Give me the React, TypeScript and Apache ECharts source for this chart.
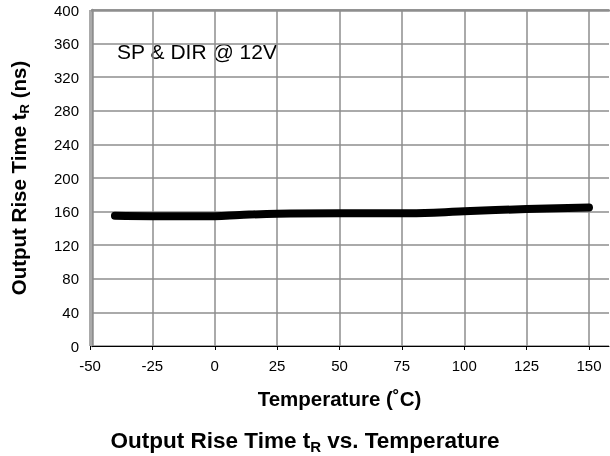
import React, { useEffect, useRef } from "react";
import * as echarts from "echarts";

const temperatures = [-40, -25, 0, 10, 25, 50, 75, 90, 100, 125, 150];
const riseTimes = [155, 154.6, 154.6, 156, 157.5, 158, 158, 159, 160.5, 163, 164.8];
const xTicks = { min: -50, max: 150, interval: 25 };
const yTicks = { min: 0, max: 400, interval: 40 };
const annotation = "SP & DIR @ 12V";
const xTitle = "Temperature (˚C)";

const FONT = 'Arial, "Liberation Sans", sans-serif';
const GRID = "#8e8e8e";

export default function App() {
  const ref = useRef<HTMLDivElement>(null);
  useEffect(() => {
    if (!ref.current) return;
    const chart = echarts.init(ref.current, undefined, { renderer: "svg" });
    chart.setOption({
      animation: false,
      textStyle: { fontFamily: FONT },
      title: {
        text: "{m|Output Rise Time t}{s|R}{m| vs. Temperature}",
        left: "center",
        top: 421,
        textStyle: {
          rich: {
            m: { fontFamily: FONT, fontWeight: "bold", fontSize: 22.5, color: "#000" },
            s: { fontFamily: FONT, fontWeight: "bold", fontSize: 15, color: "#000", verticalAlign: "bottom", padding: [13, 0, 0, 0] },
          },
        },
      },
      grid: [
        { left: 90, right: 21, top: 10, bottom: 110 },
        { left: 90, right: 1, top: 10, bottom: 110 },
      ],
      xAxis: [
        {
          type: "value",
          gridIndex: 0,
          min: xTicks.min,
          max: xTicks.max,
          interval: xTicks.interval,
          axisLine: { show: false },
          axisTick: { show: true, length: 4, lineStyle: { color: "#000" } },
          axisLabel: { color: "#000", fontSize: 15, margin: 12, fontFamily: FONT },
          splitLine: { show: true, lineStyle: { color: GRID, width: 1.5 } },
          name: xTitle,
          nameLocation: "middle",
          nameGap: 42,
          nameTextStyle: { fontFamily: FONT, fontWeight: "bold", fontSize: 20.5, color: "#000" },
        },
        {
          type: "value",
          gridIndex: 1,
          min: 0,
          max: 1,
          axisLine: { show: true, lineStyle: { color: "#000", width: 1 } },
          axisTick: { show: false },
          axisLabel: { show: false },
          splitLine: { show: false },
        },
        {
          type: "value",
          gridIndex: 1,
          position: "top",
          min: 0,
          max: 1,
          axisLine: { show: true, lineStyle: { color: GRID, width: 2.5 } },
          axisTick: { show: false },
          axisLabel: { show: false },
          splitLine: { show: false },
        },
      ],
      yAxis: [
        {
          type: "value",
          gridIndex: 0,
          min: yTicks.min,
          max: yTicks.max,
          show: false,
          splitLine: { show: false },
        },
        {
          type: "value",
          gridIndex: 1,
          min: yTicks.min,
          max: yTicks.max,
          interval: yTicks.interval,
          axisLine: { show: true, lineStyle: { color: GRID, width: 2.5 } },
          axisTick: { show: false },
          axisLabel: { color: "#000", fontSize: 15, margin: 13, fontFamily: FONT },
          splitLine: { show: true, lineStyle: { color: GRID, width: 1.5 } },
          name: "{m|Output Rise Time t}{s|R}{m| (ns)}",
          nameLocation: "middle",
          nameRotate: 90,
          nameGap: 61,
          nameTextStyle: {
            rich: {
              m: { fontFamily: FONT, fontWeight: "bold", fontSize: 20.5, color: "#000" },
              s: { fontFamily: FONT, fontWeight: "bold", fontSize: 13, color: "#000", verticalAlign: "bottom", padding: [12, 0, 0, 0] },
            },
          },
        },
      ],
      graphic: [
        {
          type: "group",
          left: 100,
          top: 32,
          children: [
            { type: "rect", shape: { x: 0, y: 0, width: 187, height: 38 }, style: { fill: "#fff" } },
            {
              type: "text",
              x: 97,
              y: 19,
              style: {
                text: annotation,
                fontFamily: FONT,
                fontSize: 21,
                fill: "#000",
                align: "center",
                verticalAlign: "middle",
              },
            },
          ],
        },
      ],
      series: [
        {
          type: "line",
          xAxisIndex: 0,
          yAxisIndex: 0,
          data: temperatures.map((t, i) => [t, riseTimes[i]]),
          smooth: 0.4,
          showSymbol: false,
          lineStyle: { color: "#000", width: 8, cap: "round", join: "round" },
          z: 5,
        },
      ],
    });
    return () => chart.dispose();
  }, []);
  return <div ref={ref} style={{ position: "fixed", left: 0, top: 0, width: 610, height: 456 }} />;
}
